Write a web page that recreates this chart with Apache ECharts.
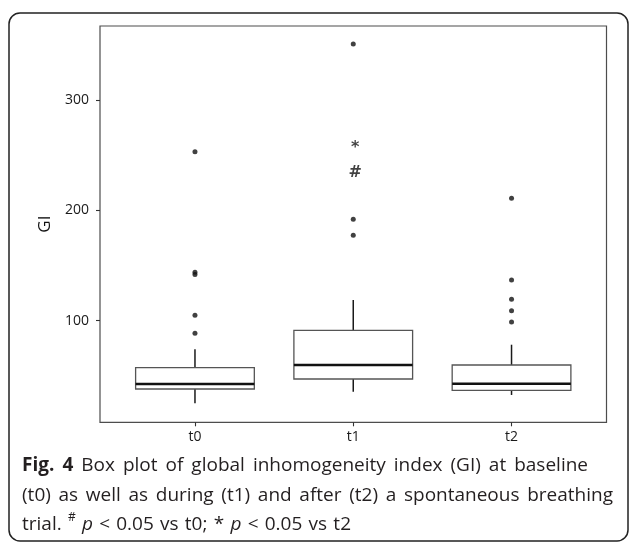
<!DOCTYPE html>
<html>
<head>
<meta charset="utf-8">
<script src="https://cdn.jsdelivr.net/npm/echarts@6/dist/echarts.min.js"></script>
<style>
html,body{margin:0;padding:0;background:#fff;}
#chart{width:630px;height:542px;}
</style>
</head>
<body>
<div id="chart"></div>
<script>
// ---- data ----
const categories = ['t0', 't1', 't2'];
const whiskerLow  = [25.0, 35.6, 32.6];
const q1          = [38.0, 47.1, 36.8];
const median      = [42.6, 59.8, 42.8];
const q3          = [57.4, 91.3, 59.8];
const whiskerHigh = [74.0, 118.8, 78.2];
const outliersT0 = [253.4, 144.0, 142.0, 104.9, 88.6];
const outliersT1 = [351.0, 192.0, 177.5];
const outliersT2 = [211.1, 136.9, 119.4, 109.1, 98.8];
const annotationCategory = ['t1', 't1'];
const annotationValue = [258.5, 235.8];
const annotationText = ['*', '#'];
const yTicks = [100, 200, 300];
const yAxisTitle = 'GI';

// ---- build ----
const xPos = c => categories.indexOf(c) + 1;
const boxData = categories.map((c, i) => [i + 1, whiskerLow[i], q1[i], median[i], q3[i], whiskerHigh[i]]);
const outlierData = [];
[outliersT0, outliersT1, outliersT2].forEach((arr, i) => arr.forEach(v => outlierData.push([i + 1, v])));
const annotData = annotationValue.map((v, i) => [xPos(annotationCategory[i]), v, annotationText[i]]);

function renderBox(params, api) {
  const x = api.value(0);
  const pLow = api.coord([x, api.value(1)]);
  const pQ1 = api.coord([x, api.value(2)]);
  const pMed = api.coord([x, api.value(3)]);
  const pQ3 = api.coord([x, api.value(4)]);
  const pHigh = api.coord([x, api.value(5)]);
  const half = api.size([0.75, 0])[0] / 2;
  const cx = pMed[0];
  return {
    type: 'group',
    children: [
      { type: 'line', shape: { x1: cx, y1: pHigh[1], x2: cx, y2: pQ3[1] }, style: { stroke: '#1a1a1a', lineWidth: 1.5 } },
      { type: 'line', shape: { x1: cx, y1: pQ1[1], x2: cx, y2: pLow[1] }, style: { stroke: '#1a1a1a', lineWidth: 1.5 } },
      { type: 'rect', shape: { x: cx - half, y: pQ3[1], width: half * 2, height: pQ1[1] - pQ3[1] }, style: { fill: '#fff', stroke: '#555', lineWidth: 1.3 } },
      { type: 'line', shape: { x1: cx - half, y1: pMed[1], x2: cx + half, y2: pMed[1] }, style: { stroke: '#111', lineWidth: 2.4 } }
    ]
  };
}

// ---- caption ----
const FONT_FAMILY = '"Open Sans", "Noto Sans", sans-serif';
const FS = 19;
const measureCtx = document.createElement('canvas').getContext('2d');
function fontStr(tok, size) {
  return (tok.italic ? 'italic ' : '') + (tok.bold ? 'bold ' : '') + size + 'px ' + FONT_FAMILY;
}
function tokenWidth(tok) {
  const size = tok.sup ? 12 : FS;
  measureCtx.font = fontStr(tok, size);
  return measureCtx.measureText(tok.t).width;
}
const captionLines = [
  { y: 466, x0: 22, x1: 588, tokens: [{t:'Fig.', bold:true},{t:'4', bold:true},{t:'Box'},{t:'plot'},{t:'of'},{t:'global'},{t:'inhomogeneity'},{t:'index'},{t:'(GI)'},{t:'at'},{t:'baseline'}] },
  { y: 496, x0: 22, x1: 613, tokens: [{t:'(t0)'},{t:'as'},{t:'well'},{t:'as'},{t:'during'},{t:'(t1)'},{t:'and'},{t:'after'},{t:'(t2)'},{t:'a'},{t:'spontaneous'},{t:'breathing'}] },
  { y: 525, x0: 22, x1: 351, tokens: [{t:'trial.'},{t:'#', sup:true},{t:'p', italic:true},{t:'<'},{t:'0.05'},{t:'vs'},{t:'t0;'},{t:'*'},{t:'p', italic:true},{t:'<'},{t:'0.05'},{t:'vs'},{t:'t2'}] }
];
const graphics = [];
captionLines.forEach(line => {
  const widths = line.tokens.map(tokenWidth);
  const total = widths.reduce((a, b) => a + b, 0);
  const gap = (line.x1 - line.x0 - total) / (line.tokens.length - 1);
  let x = line.x0;
  line.tokens.forEach((tok, i) => {
    const size = tok.sup ? 12 : FS;
    graphics.push({
      type: 'text', x: x, y: tok.sup ? line.y - 7 : line.y,
      style: { text: tok.t, font: fontStr(tok, size), fill: '#231f20', textVerticalAlign: 'middle', verticalAlign: 'middle' }
    });
    x += widths[i] + gap;
  });
});
graphics.push({
  type: 'rect', shape: { x: 9, y: 13, width: 619, height: 528, r: 11 },
  style: { fill: 'none', stroke: '#222', lineWidth: 1.5 }, silent: true
});

const chart = echarts.init(document.getElementById('chart'), null, { renderer: 'canvas' });
chart.setOption({
  animation: false,
  backgroundColor: '#fff',
  grid: { left: 100, right: 23.5, top: 26, bottom: 119.7, show: true, borderColor: '#4d4d4d', borderWidth: 1.2, backgroundColor: 'transparent' },
  xAxis: {
    type: 'value', min: 0.4, max: 3.6,
    splitLine: { show: false },
    axisLine: { show: false },
    axisTick: { show: true, length: 4, lineStyle: { color: '#333', width: 1.1 }, customValues: [1, 2, 3] },
    axisLabel: { customValues: [1, 2, 3], formatter: v => categories[Math.round(v) - 1] || '', margin: 8, fontSize: 14, color: '#1a1a1a', fontFamily: '"Open Sans", sans-serif' }
  },
  yAxis: {
    type: 'value', min: 7.8, max: 367.4,
    name: yAxisTitle, nameLocation: 'middle', nameGap: 39, nameTextStyle: { fontSize: 17, color: '#111', fontFamily: '"Open Sans", sans-serif' },
    splitLine: { show: false },
    axisLine: { show: false },
    axisTick: { show: true, length: 4, lineStyle: { color: '#333', width: 1.1 }, customValues: yTicks },
    axisLabel: { customValues: yTicks, margin: 11, fontSize: 14, color: '#1a1a1a', fontFamily: '"Open Sans", sans-serif' }
  },
  series: [
    { type: 'custom', renderItem: renderBox, data: boxData, encode: { x: 0, y: [1, 2, 3, 4, 5] }, z: 2 },
    { type: 'scatter', data: outlierData, symbol: 'circle', symbolSize: 5, itemStyle: { color: '#111' }, z: 3 },
    { type: 'scatter', data: annotData, symbolSize: 0, z: 4,
      label: { show: true, position: 'inside', offset: [2, 2], formatter: p => p.data[2], fontSize: 16, fontWeight: 'bold', color: '#111', fontFamily: '"DejaVu Sans", sans-serif' } }
  ],
  graphic: graphics
});
</script>
</body>
</html>
